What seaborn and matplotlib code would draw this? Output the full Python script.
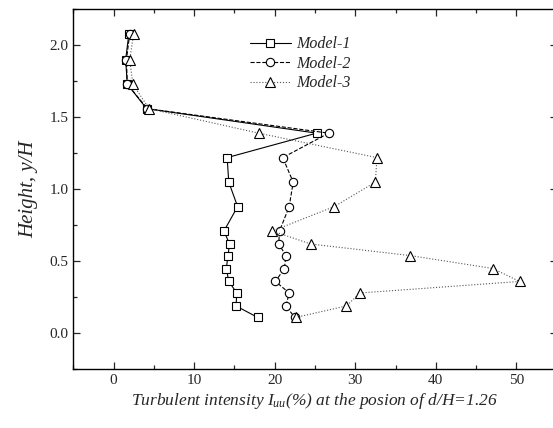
import numpy as np
import pandas as pd
import matplotlib
matplotlib.use("Agg")
import matplotlib.pyplot as plt
from matplotlib.ticker import MultipleLocator
import seaborn as sns

sns.set_style("ticks")
plt.rcParams['font.family'] = ['Liberation Serif', 'DejaVu Serif']
plt.rcParams['mathtext.fontset'] = 'custom'
plt.rcParams['mathtext.it'] = 'Liberation Serif:italic'
plt.rcParams['mathtext.rm'] = 'Liberation Serif'

# heights y/H
heights = [2.08, 1.90, 1.73, 1.56, 1.39, 1.22, 1.05, 0.88, 0.71, 0.62,
           0.54, 0.45, 0.36, 0.28, 0.19, 0.11]

# turbulent intensity (%)
model1 = [1.9, 1.5, 1.7, 4.1, 25.2, 14.1, 14.3, 15.4, 13.7, 14.4,
          14.2, 14.0, 14.3, 15.3, 15.2, 17.9]
model2 = [2.0, 1.6, 1.7, 4.2, 26.7, 21.0, 22.3, 21.8, 20.6, 20.5,
          21.4, 21.2, 20.1, 21.8, 21.4, 22.5]
model3 = [2.5, 2.0, 2.4, 4.4, 18.0, 32.7, 32.5, 27.4, 19.7, 24.5,
          36.8, 47.1, 50.4, 30.6, 28.9, 22.6]

labels = ["Model-1", "Model-2", "Model-3"]

fig = plt.figure(figsize=(5.53, 4.28), dpi=100)
ax = fig.add_axes([73.3 / 553, 1 - 369.3 / 428, (556.6 - 73.3) / 553, (369.3 - 9.3) / 428])

styles = [
    dict(marker='s', linestyle='-', color='black', markersize=5.5),
    dict(marker='o', linestyle='--', color='black', markersize=6),
    dict(marker='^', linestyle=':', color='#555555', markersize=7),
]

for vals, lab, st in zip([model1, model2, model3], labels, styles):
    df = pd.DataFrame({'x': vals, 'y': heights})
    sns.lineplot(data=df, x='x', y='y', sort=False, estimator=None, ax=ax,
                 label=lab, marker=st['marker'], linestyle=st['linestyle'],
                 color=st['color'], linewidth=0.8, markersize=st['markersize'],
                 markerfacecolor='white', markeredgecolor='black',
                 markeredgewidth=0.8)

ax.set_xlim(-5, 55)
ax.set_ylim(-0.25, 2.25)
ax.xaxis.set_major_locator(MultipleLocator(10))
ax.xaxis.set_minor_locator(MultipleLocator(5))
ax.yaxis.set_major_locator(MultipleLocator(0.5))
ax.yaxis.set_minor_locator(MultipleLocator(0.25))
ax.yaxis.set_major_formatter(matplotlib.ticker.FormatStrFormatter('%.1f'))
ax.tick_params(which='both', direction='in', top=True, right=True, labelsize=11)
ax.tick_params(which='major', length=5, width=0.9)
ax.tick_params(which='minor', length=3, width=0.9)
for sp in ax.spines.values():
    sp.set_linewidth(1.0)
    sp.set_color('black')

ax.set_xlabel(r"Turbulent intensity $I_{uu}$(%) at the posion of d/H=1.26",
              fontsize=12.5, fontstyle='italic', labelpad=3)
ax.set_ylabel("Height, y/H", fontsize=15, fontstyle='italic', labelpad=8)

leg = ax.legend(loc='upper left', bbox_to_anchor=(0.335, 0.965), frameon=False,
                prop={'family': 'Liberation Serif', 'style': 'italic', 'size': 11.5},
                handlelength=2.6, labelspacing=0.22, handletextpad=0.3)

fig.savefig("out.png", dpi=100)
